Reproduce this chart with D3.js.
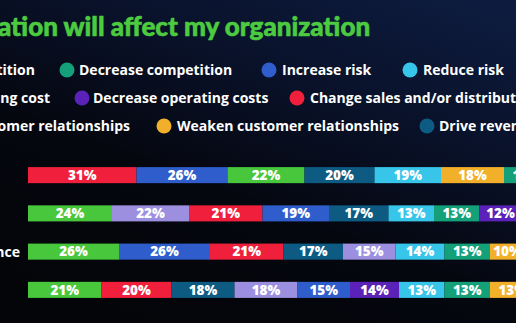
<!DOCTYPE html>
<html><head><meta charset="utf-8">
<script src="https://cdn.jsdelivr.net/npm/d3@7"></script>
<style>
html,body{margin:0;padding:0;background:#05070d;overflow:hidden;}
svg{display:block;}
</style></head>
<body>
<svg id="chart" width="516" height="323"></svg>
<script>
// ---- Data ----
const titleText = "ation will affect my organization";
const seriesNames = [
  "Increase competition", "Decrease competition", "Increase risk", "Reduce risk",
  "Increase operating cost", "Decrease operating costs", "Change sales and/or distribution",
  "Strengthen customer relationships", "Weaken customer relationships", "Drive revenue"
];
const seriesColors = [
  "#48c63c", "#14a078", "#2f5dcc", "#37c5e9",
  "#9d8fe0", "#5a22b8", "#f0203d",
  "#9d8fe0", "#f2b02a", "#0d5b82"
];
// visible fragments of left-clipped legend labels
const legendFragments = ["tition", "ing cost", "omer relationships"];
const rowKeys = ["row1", "row2", "row3", "row4"];
const rowLabels = ["", "", "nce", ""];
// per row: series index in drawn order, and percentage values
const row1Series = [6, 2, 0, 9, 3, 8, 1];
const row1Values = [31, 26, 22, 20, 19, 18, 13];
const row2Series = [0, 4, 6, 2, 9, 3, 1, 5];
const row2Values = [24, 22, 21, 19, 17, 13, 13, 12];
const row3Series = [0, 2, 6, 9, 4, 3, 1, 8];
const row3Values = [26, 26, 21, 17, 15, 14, 13, 10];
const row4Series = [0, 6, 9, 4, 2, 5, 3, 1, 8];
const row4Values = [21, 20, 18, 18, 15, 14, 13, 13, 13];

const rowsSeries = [row1Series, row2Series, row3Series, row4Series];
const rowsValues = [row1Values, row2Values, row3Values, row4Values];

// ---- Layout ----
const W = 516, H = 323;
const svg = d3.select("#chart");
const defs = svg.append("defs");
const bg = defs.append("linearGradient").attr("id", "bg")
  .attr("x1", "0.9").attr("y1", "0").attr("x2", "0.3").attr("y2", "1");
bg.append("stop").attr("offset", "0").attr("stop-color", "#0d1b3e");
bg.append("stop").attr("offset", "0.35").attr("stop-color", "#091128");
bg.append("stop").attr("offset", "0.65").attr("stop-color", "#05070f");
bg.append("stop").attr("offset", "1").attr("stop-color", "#040509");
svg.append("rect").attr("width", W).attr("height", H).attr("fill", "url(#bg)");

const fontBold = "'Open Sans', 'Noto Sans', sans-serif";

// Title
svg.append("text")
  .attr("x", -2).attr("y", 36)
  .attr("fill", "#4ccb40")
  .style("font-family", "Lato, 'Open Sans', sans-serif")
  .style("font-weight", 900)
  .style("font-size", "26px")
  .style("stroke", "#4ccb40").style("stroke-width", "0.6px")
  .text(titleText);

// Legend
const legendRows = [
  { y: 70, endFirst: 35, items: [{ s: 1, cx: 67, tx: 79 }, { s: 2, cx: 269, tx: 282 }, { s: 3, cx: 410, tx: 423 }] },
  { y: 98, endFirst: 50, items: [{ s: 5, cx: 82, tx: 93 }, { s: 6, cx: 297, tx: 310 }] },
  { y: 126, endFirst: 130, items: [{ s: 8, cx: 164, tx: 177 }, { s: 9, cx: 427, tx: 439 }] }
];
const legend = svg.append("g");
legendRows.forEach((r, i) => {
  legend.append("text")
    .attr("x", r.endFirst).attr("y", r.y).attr("dy", "0.35em")
    .attr("text-anchor", "end")
    .attr("fill", "#ffffff")
    .style("font-family", fontBold).style("font-weight", 700).style("font-size", "14px")
    .text(legendFragments[i]);
  r.items.forEach(it => {
    legend.append("circle").attr("cx", it.cx).attr("cy", r.y).attr("r", 7.5)
      .attr("fill", seriesColors[it.s]);
    legend.append("text")
      .attr("x", it.tx).attr("y", r.y).attr("dy", "0.35em")
      .attr("fill", "#ffffff")
      .style("font-family", fontBold).style("font-weight", 700).style("font-size", "14px")
      .text(seriesNames[it.s]);
  });
});

// Scales
const x = d3.scaleLinear().domain([0, 150]).range([28, 28 + 525]);
const y = d3.scaleBand().domain(rowKeys).range([156, 309]).paddingInner(0.58).paddingOuter(0.29);

const rowsG = svg.append("g").selectAll("g").data(rowKeys).join("g")
  .attr("transform", k => `translate(0,${y(k)})`);

rowsG.each(function (k, ri) {
  const g = d3.select(this);
  let cum = 0;
  const segs = rowsValues[ri].map((v, j) => {
    const s = { v, s: rowsSeries[ri][j], x0: cum, x1: cum + v };
    cum += v;
    return s;
  });
  g.selectAll("rect").data(segs).join("rect")
    .attr("x", d => x(d.x0)).attr("width", d => x(d.x1) - x(d.x0))
    .attr("y", 0).attr("height", y.bandwidth())
    .attr("fill", d => seriesColors[d.s]);
  g.selectAll("text.val").data(segs).join("text").attr("class", "val")
    .attr("x", d => (x(d.x0) + x(d.x1)) / 2)
    .attr("y", y.bandwidth() / 2).attr("dy", "0.36em")
    .attr("text-anchor", "middle")
    .attr("fill", "#ffffff")
    .style("font-family", fontBold).style("font-weight", 800).style("font-size", "13.5px")
    .text(d => d.v + "%");
  g.append("text")
    .attr("x", 20).attr("y", y.bandwidth() / 2).attr("dy", "0.35em")
    .attr("text-anchor", "end").attr("fill", "#ffffff")
    .style("font-family", fontBold).style("font-weight", 700).style("font-size", "14px")
    .text(rowLabels[ri]);
});
</script>
</body></html>
